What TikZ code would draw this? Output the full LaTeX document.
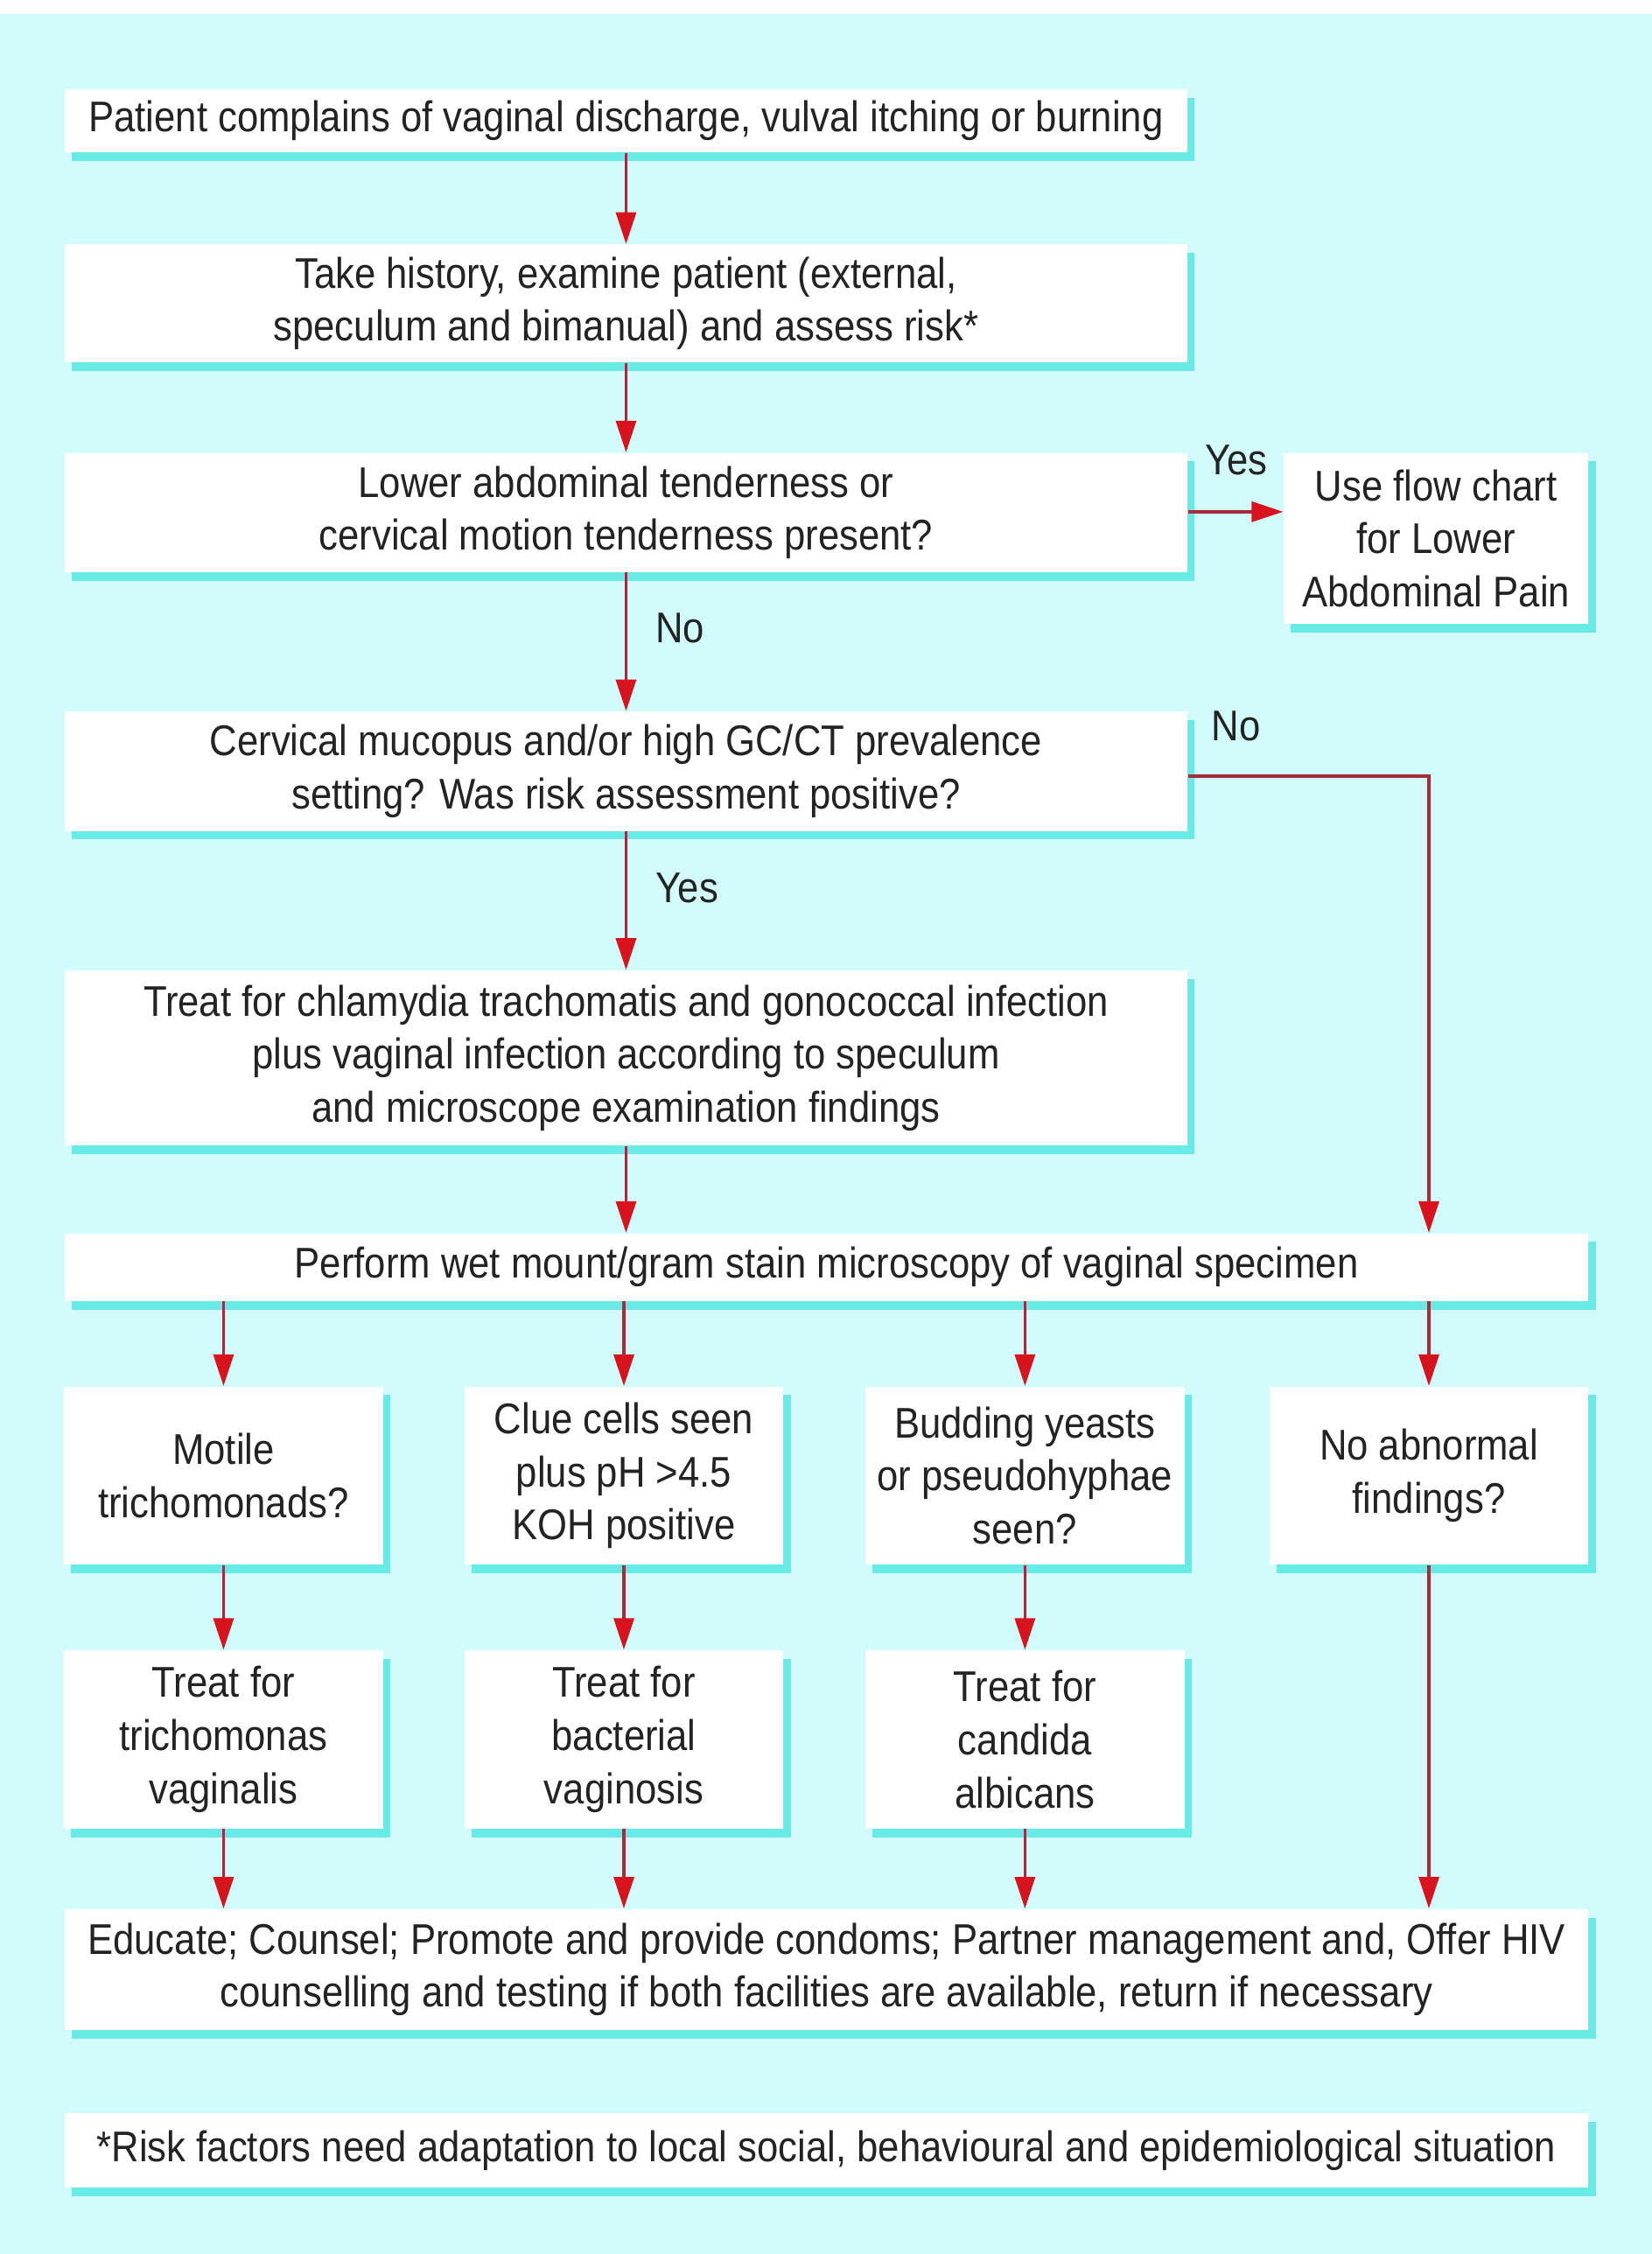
\documentclass[tikz,border=0pt]{standalone}
\usepackage{fontspec}
\setmainfont{Liberation Sans}[FakeStretch=0.89]
\usetikzlibrary{arrows.meta,shadows}
\definecolor{panelcyan}{RGB}{210,251,251}
\definecolor{boxshadow}{RGB}{104,234,230}
\definecolor{arrowline}{RGB}{165,45,55}
\definecolor{arrowhead}{RGB}{215,20,30}
\definecolor{inkgrey}{RGB}{35,35,35}
\def\boxfont{\fontsize{17}{21}\selectfont}

\begin{document}
\begin{tikzpicture}[x=0.02cm, y=-0.02cm,
    box/.style={fill=white, text=inkgrey, font=\boxfont, align=center, inner sep=0pt,
      general shadow={fill=boxshadow, shadow xshift=0.1cm, shadow yshift=-0.12cm}},
    wide/.style={box, minimum width=781*0.02cm},
    full/.style={box, minimum width=1060*0.02cm},
    small/.style={box, minimum width=222*0.02cm, minimum height=124*0.02cm},
    flow/.style={line width=1.2pt, draw=arrowline, -{Triangle[length=0.44cm, width=0.28cm, color=arrowhead]}},
    answer/.style={text=inkgrey, font=\boxfont, inner sep=0pt}]
			%%%%% START %%%%%
			
			\useasboundingbox (0, 0) rectangle (1149, 1568);
			\fill[white] (0, 0) rectangle (1149, 1568);
			\fill[panelcyan] (0, 10) rectangle (1149, 1568);
			
			\node[wide, minimum height=44*0.02cm] (complaint) at (435.5, 84) {Patient complains of vaginal discharge, vulval itching or burning};
			\node[wide, minimum height=82*0.02cm] (history) at (435.5, 211) {Take history, examine patient (external,\\speculum and bimanual) and assess risk*};
			\node[wide, minimum height=83*0.02cm] (tender) at (435.5, 356.5) {Lower abdominal tenderness or\\cervical motion tenderness present?};
			\node[box, minimum width=212*0.02cm, minimum height=119*0.02cm] (pain) at (999, 374.5) {Use flow chart\\for Lower\\Abdominal Pain};
			\node[wide, minimum height=83*0.02cm] (mucopus) at (435.5, 536.5) {Cervical mucopus and/or high GC/CT prevalence\\setting? Was risk assessment positive?};
			\node[wide, minimum height=122*0.02cm] (treatgc) at (435.5, 736) {Treat for chlamydia trachomatis and gonococcal infection\\plus vaginal infection according to speculum\\and microscope examination findings};
			\node[full, minimum height=47*0.02cm] (wetmount) at (575, 881.5) {Perform wet mount/gram stain microscopy of vaginal specimen};
			
			\node[small] (motile) at (155.5, 1026.5) {Motile\\trichomonads?};
			\node[small] (clue) at (434, 1026.5) {Clue cells seen\\plus pH >4.5\\KOH positive};
			\node[small] (yeast) at (713, 1026.5) {Budding yeasts\\or pseudohyphae\\seen?};
			\node[small] (normal) at (994, 1026.5) {No abnormal\\findings?};
			
			\node[small] (trich) at (155.5, 1210) {Treat for\\trichomonas\\vaginalis};
			\node[small] (bv) at (434, 1210) {Treat for\\bacterial\\vaginosis};
			\node[small] (candida) at (713, 1210) {Treat for\\candida\\albicans};
			
			\node[full, minimum height=84*0.02cm] (educate) at (575, 1370) {Educate; Counsel; Promote and provide condoms; Partner management and, Offer HIV\\counselling and testing if both facilities are available, return if necessary};
			\node[full, minimum height=52*0.02cm] (footnote) at (575, 1496) {*Risk factors need adaptation to local social, behavioural and epidemiological situation};
			
			\node[answer] (yes1) at (860, 320) {Yes};
			\node[answer] (no1) at (473, 437) {No};
			\node[answer] (no2) at (860, 505) {No};
			\node[answer] (yes2) at (478, 618) {Yes};
			
			\draw[flow] (tender.east |- 0, 356) -- (pain.west |- 0, 356);
			\draw[flow] (mucopus.east |- 0, 540) -| (wetmount.north -| normal.north);
			\draw[flow] (complaint) -- (history);
			\draw[flow] (history) -- (tender);
			\draw[flow] (tender) -- (mucopus);
			\draw[flow] (mucopus) -- (treatgc);
			\draw[flow] (treatgc.south) -- (treatgc.south |- wetmount.north);
			
			\foreach \q in {motile, clue, yeast, normal}
				\draw[flow] (wetmount.south -| \q.north) -- (\q.north);
			
			\draw[flow] (motile) -- (trich);
			\draw[flow] (clue) -- (bv);
			\draw[flow] (yeast) -- (candida);
			
			\foreach \t in {trich, bv, candida, normal}
				\draw[flow] (\t.south) -- (\t.south |- educate.north);
			
			%%%%% END %%%%%
		\end{tikzpicture}
\end{document}
